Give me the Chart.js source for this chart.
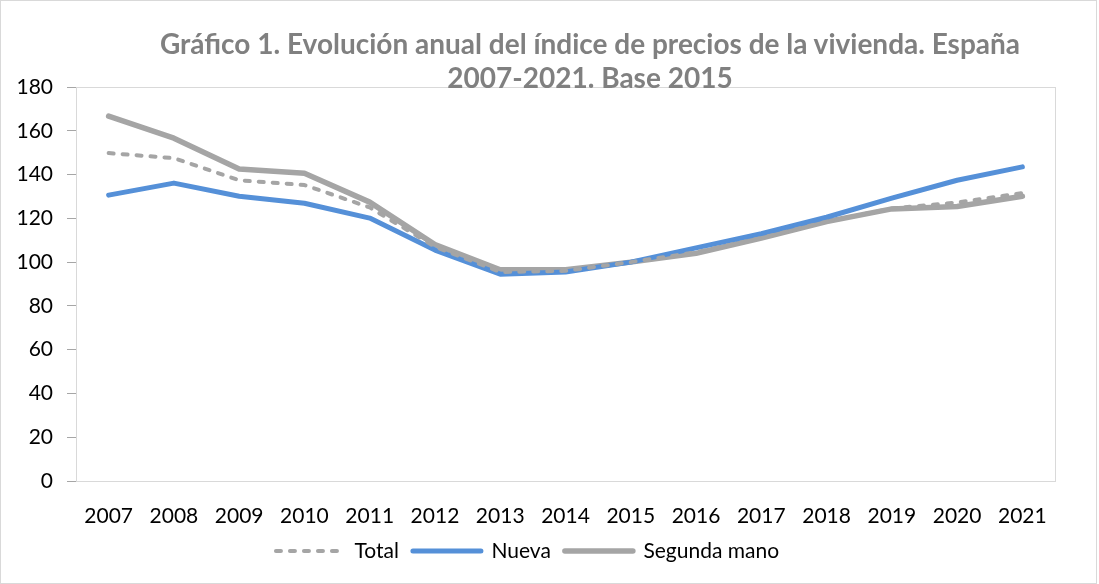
<!DOCTYPE html>
<html lang="es">
  <head>
    <meta charset="UTF-8" />
    <title>Índice de precios de la vivienda</title>
    <script src="https://cdn.jsdelivr.net/npm/chart.js"></script>
    <style>
      body { margin: 0; background: #fff; }
      #wrap { position: relative; width: 1099px; height: 584px; }
      #title {
        position: absolute; left: 120px; top: 26px; width: 940px;
        text-align: center; font-family: Lato, sans-serif; font-weight: bold;
        font-size: 28px; line-height: 34px; color: #808080;
        pointer-events: none; z-index: 2;
      }
    </style>
  </head>
  <body>
    <div id="wrap">
      <div id="title">Gráfico 1. Evolución anual del índice de precios de la vivienda. España<br />2007-2021. Base 2015</div>
      <canvas id="myChart" width="1099" height="584"></canvas>
    </div>

    <script>
      // data
      const years = ["2007", "2008", "2009", "2010", "2011", "2012", "2013", "2014",
        "2015", "2016", "2017", "2018", "2019", "2020", "2021"];
      const total = [149.8, 147.5, 137.4, 135.2, 125, 107, 95.5, 96, 100, 104.5, 111, 118.5, 124.5, 127.2, 131.5];
      const nueva = [130.6, 136.1, 130.1, 126.9, 120.1, 105.5, 94.5, 95.5, 100, 106.5, 113, 120.5, 129.2, 137.4, 143.5];
      const segunda = [166.7, 156.6, 142.5, 140.6, 127.4, 108, 96.5, 96.5, 100, 104, 111, 118.5, 124.3, 125.4, 130.1];

      const grey = "#a5a5a5";
      const blue = "#5590d8";

      // light frames around the plot area and the whole picture
      const frames = {
        id: "frames",
        beforeDatasetsDraw(chart) {
          const { ctx, chartArea: a } = chart;
          ctx.save();
          ctx.strokeStyle = "#d9d9d9";
          ctx.lineWidth = 1;
          ctx.strokeRect(a.left + 0.5, a.top + 0.5, a.right - a.left, a.bottom - a.top);
          ctx.strokeRect(0.5, 0.5, chart.width - 3, chart.height - 1);
          ctx.restore();
        },
      };

      const ctx = document.getElementById("myChart").getContext("2d");
      new Chart(ctx, {
        type: "line",
        data: {
          labels: years,
          datasets: [
            { label: "Total", data: total, borderColor: grey, borderWidth: 4, borderDash: [5, 9], borderCapStyle: "round" },
            { label: "Nueva", data: nueva, borderColor: blue, borderWidth: 5, borderCapStyle: "round" },
            { label: "Segunda mano", data: segunda, borderColor: grey, borderWidth: 5.5, borderCapStyle: "round" },
          ],
        },
        options: {
          responsive: false,
          animation: false,
          layout: { padding: { left: 0, right: 44, top: 87, bottom: 12.5 } },
          elements: { point: { radius: 0 }, line: { tension: 0, borderJoinStyle: "round" } },
          scales: {
            x: {
              offset: true,
              afterFit(scale) { scale.height = 45.5; },
              grid: { display: false },
              border: { color: "#bfbfbf" },
              ticks: { color: "#000", font: { family: "Lato", size: 21 }, padding: 15, maxRotation: 0 },
            },
            y: {
              min: 0,
              max: 180,
              afterFit(scale) { scale.width = 76; },
              border: { color: "#a6a6a6" },
              grid: { drawOnChartArea: false, tickLength: 9, color: "#a6a6a6" },
              ticks: { stepSize: 20, color: "#000", font: { family: "Lato", size: 21 }, padding: 14 },
            },
          },
          plugins: {
            legend: {
              position: "bottom",
              labels: {
                usePointStyle: true,
                pointStyle: "line",
                pointStyleWidth: 68,
                boxHeight: 14,
                color: "#000",
                font: { family: "Lato", size: 21 },
                padding: 14,
                generateLabels(chart) {
                  const items = Chart.defaults.plugins.legend.labels.generateLabels(chart);
                  items.forEach((item) => {
                    const ds = chart.data.datasets[item.datasetIndex];
                    item.lineDash = ds.borderDash || [];
                    item.lineWidth = ds.borderWidth;
                    item.lineCap = "round";
                    item.strokeStyle = ds.borderColor;
                  });
                  return items;
                },
              },
            },
            tooltip: { enabled: false },
          },
        },
        plugins: [frames],
      });
    </script>
  </body>
</html>
